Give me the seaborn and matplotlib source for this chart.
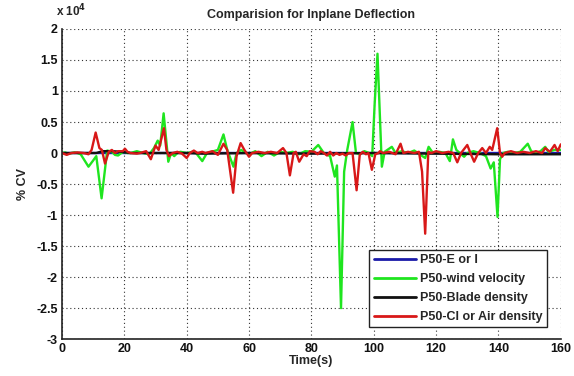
import matplotlib
matplotlib.use("Agg")
import matplotlib.pyplot as plt
from matplotlib.ticker import FuncFormatter, MultipleLocator
import numpy as np
import pandas as pd
import seaborn as sns

# Percent coefficient of variation of in-plane deflection (values in units of 1e4 %)
SCALE = 1e4

t_wind = [0, 1, 2, 3, 4, 5, 6, 7, 8.5, 10, 11, 12.7, 14.5, 16, 17, 18, 19, 20, 21, 22,
          24, 26, 28, 29.5, 30.7, 31.5, 32.6, 34.1, 35, 36, 37, 38, 40, 42, 43, 45, 46.5,
          48, 50, 51.8, 53, 55, 56, 57.5, 59, 60, 62, 64, 66, 68, 70, 72, 74, 76, 78, 80,
          82.2, 84, 86, 87.5, 88.2, 89.5, 90.5, 91.5, 93.2, 94.3, 95.5, 97, 98.5, 99.5,
          100.3, 101.2, 102.6, 103.5, 105.8, 107, 109, 111, 113, 115, 116.5, 117.6, 119,
          121, 123, 124.4, 125.4, 126.5, 128, 129, 130, 132, 134, 136, 137.5, 138.5,
          139.7, 140.5, 141.5, 143, 145, 147, 149.4, 150.5, 152, 153.5, 155, 156, 158, 160]
cv_wind = [0.0, 0.01, -0.01, 0.0, 0.01, 0.0, -0.02, -0.1, -0.22, -0.12, -0.05, -0.73, 0.04,
           0.02, -0.03, -0.04, 0.0, 0.02, 0.0, 0.0, 0.03, 0.0, -0.02, 0.08, 0.2, 0.12, 0.64,
           -0.14, 0.0, -0.05, 0.0, 0.02, 0.0, 0.02, 0.0, -0.13, 0.0, 0.02, 0.05, 0.3, 0.05,
           -0.22, 0.0, 0.05, 0.0, -0.02, 0.03, -0.05, 0.02, -0.04, 0.02, 0.0, 0.02, -0.02,
           0.03, 0.02, 0.13, 0.0, -0.05, -0.38, -0.2, -2.5, -0.3, 0.05, 0.5, 0.0, -0.02,
           0.03, 0.0, -0.05, 0.8, 1.6, -0.22, 0.02, 0.1, 0.0, 0.03, 0.0, 0.04, -0.03, -0.08,
           0.1, 0.0, 0.02, 0.0, -0.13, 0.22, 0.05, -0.02, -0.06, 0.0, 0.03, 0.0, -0.05,
           -0.25, -0.15, -1.03, -0.1, 0.0, 0.02, 0.0, 0.02, 0.15, 0.03, 0.0, 0.03, 0.1,
           0.02, 0.05, 0.05]

t_air = [0, 1.5, 3, 5, 7, 8.5, 9.5, 10.8, 12, 12.8, 13.8, 15, 16, 17, 18, 19.5, 20.2, 21,
         22, 24, 25, 27, 28.5, 30, 31, 32.7, 33.5, 34.3, 35.5, 37, 38.5, 40, 41, 42.3, 43.5,
         45, 46, 48.3, 50, 51.8, 53, 54.9, 56, 57.3, 58.5, 60, 61, 63, 65, 67, 69, 70.9,
         72, 73.1, 74.3, 75, 76.1, 77.5, 78.5, 79.5, 81, 82, 83, 84, 85, 86, 87, 88, 89,
         90, 91, 92, 93.2, 94.5, 95.5, 96.5, 97.5, 98.3, 99.4, 100.5, 101.5, 102, 103, 105,
         107, 108.6, 109.5, 111, 113, 114.5, 115.5, 116.5, 117.5, 118.5, 120, 122, 124,
         125.5, 126.8, 128, 130, 131, 132.2, 133.5, 134.8, 136, 137.2, 138, 139.6, 140.5,
         141.2, 142, 144, 146, 148, 150, 152, 154, 155, 156.5, 158, 159, 160]
cv_air = [0.0, -0.03, 0.0, 0.01, 0.0, -0.02, 0.05, 0.33, 0.08, 0.05, -0.17, 0.02, 0.05,
          0.0, 0.03, 0.03, 0.07, 0.02, 0.0, -0.01, 0.0, 0.03, -0.1, 0.12, 0.05, 0.4, 0.05,
          -0.05, 0.0, 0.02, -0.01, -0.08, 0.0, 0.04, 0.0, 0.02, 0.0, 0.03, -0.03, 0.15,
          0.05, -0.64, -0.05, 0.16, 0.05, -0.06, 0.0, 0.02, 0.0, 0.02, 0.0, 0.08, 0.0,
          -0.36, 0.0, 0.02, -0.14, -0.02, -0.05, 0.03, 0.02, -0.02, 0.03, 0.0, -0.04, 0.02,
          -0.04, 0.0, -0.03, -0.01, -0.04, 0.0, 0.0, -0.6, -0.03, 0.02, -0.02, 0.0, -0.27,
          -0.02, 0.0, 0.03, 0.0, 0.02, -0.02, 0.15, 0.0, 0.02, 0.0, 0.02, -0.3, -1.3, 0.02,
          0.0, 0.03, 0.0, 0.02, 0.0, -0.15, 0.0, 0.13, 0.0, -0.14, 0.0, 0.08, 0.0, 0.1,
          0.05, 0.4, 0.0, -0.06, 0.0, 0.03, 0.0, 0.02, 0.0, 0.03, 0.0, 0.08, 0.02, 0.13,
          0.03, 0.14]

t_blade = [0, 5, 11, 13, 16, 19, 22, 30, 40, 45, 60, 80, 100, 120, 140, 160]
cv_blade = [0.0, 0.0, 0.0, 0.03, 0.03, 0.02, 0.0, 0.0, 0.0, -0.01, 0.0, -0.01, 0.0,
            -0.01, -0.02, -0.02]

t_ei = [0, 20, 40, 60, 80, 100, 120, 140, 160]
cv_ei = [0.0, 0.0, 0.0, 0.0, 0.0, 0.0, 0.0, 0.0, 0.0]

series_names = ["P50-E or I", "P50-wind velocity", "P50-Blade density",
                "P50-Cl or Air density"]
series_colors = ["#1a1aa8", "#1fe51f", "#111111", "#d81818"]

frames = []
for name, t, v in zip(series_names,
                      [t_ei, t_wind, t_blade, t_air],
                      [cv_ei, cv_wind, cv_blade, cv_air]):
    frames.append(pd.DataFrame({"Time": t, "CV": np.asarray(v) * SCALE, "series": name}))
data = pd.concat(frames, ignore_index=True)

sns.set_style("white")
plt.rcParams["font.family"] = ["Liberation Sans", "DejaVu Sans"]
plt.rcParams["font.weight"] = "bold"

fig = plt.figure(figsize=(5.74, 3.76), dpi=100)
ax = fig.add_axes([0.108, 0.098, 0.869, 0.825])

sns.lineplot(data=data, x="Time", y="CV", hue="series", hue_order=series_names,
             palette=dict(zip(series_names, series_colors)), estimator=None,
             sort=False, linewidth=1.7, ax=ax)

ax.set_xlim(0, 160)
ax.set_ylim(-3 * SCALE, 2 * SCALE)
ax.xaxis.set_major_locator(MultipleLocator(20))
ax.yaxis.set_major_locator(MultipleLocator(0.5 * SCALE))
ax.yaxis.set_major_formatter(FuncFormatter(lambda v, p: f"{v / SCALE:g}"))

ax.grid(True, color="#333333", linestyle=(0, (1, 2.5)), linewidth=0.8)
for side in ("top", "right"):
    ax.spines[side].set_visible(False)
for side in ("left", "bottom"):
    ax.spines[side].set_color("#222222")
    ax.spines[side].set_linewidth(1.2)
ax.tick_params(direction="in", length=4, width=1, colors="#222222",
               labelsize=9, labelcolor="#111111", pad=3)
for lbl in ax.get_xticklabels() + ax.get_yticklabels():
    lbl.set_fontweight("bold")

ax.set_xlabel("Time(s)", fontsize=9, fontweight="bold", labelpad=0)
ax.set_ylabel("% CV", fontsize=9, fontweight="bold", labelpad=5)
ax.set_title("Comparision for Inplane Deflection", fontsize=9, fontweight="bold", pad=8)
ax.text(-0.012, 1.03, r"x 10$^4$", transform=ax.transAxes, fontsize=8.5,
        fontweight="bold", ha="left", va="bottom")

leg = ax.legend(loc="lower right", bbox_to_anchor=(0.985, 0.018), frameon=True,
                fancybox=False, framealpha=1, edgecolor="#222222", fontsize=9,
                handlelength=3.4, borderpad=0.35, labelspacing=0.55, handletextpad=0.3)
leg.get_frame().set_linewidth(1.0)
for txt in leg.get_texts():
    txt.set_fontweight("bold")
for line in leg.get_lines():
    line.set_linewidth(2.0)

fig.savefig("out.png", dpi=100)
